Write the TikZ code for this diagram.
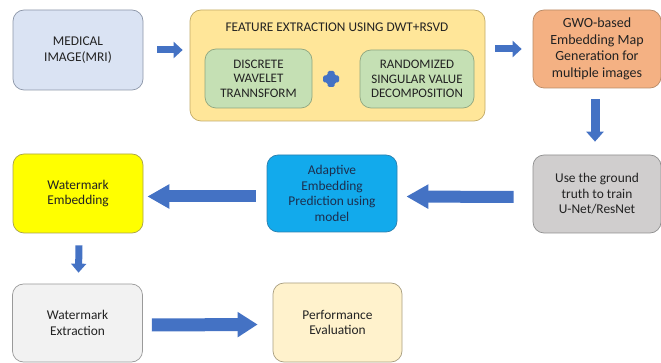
\documentclass[tikz,border=0pt]{standalone}
\usepackage{fontspec}
\setmainfont{Carlito}
\usetikzlibrary{arrows.meta}

\definecolor{arrowblue}{HTML}{4472C4}
\definecolor{txt}{HTML}{222222}
\definecolor{navytxt}{HTML}{1C2F4F}
\definecolor{medfill}{HTML}{DAE3F3}\definecolor{medline}{HTML}{8C96A8}
\definecolor{featfill}{HTML}{FFE699}\definecolor{featline}{HTML}{C2AA66}
\definecolor{grnfill}{HTML}{C5E0B4}\definecolor{grnline}{HTML}{8FA67F}
\definecolor{gwofill}{HTML}{F4B183}\definecolor{gwoline}{HTML}{B88A66}
\definecolor{grayfill}{HTML}{D0CECE}\definecolor{grayline}{HTML}{8F8F8F}
\definecolor{cyanfill}{HTML}{12AAEC}\definecolor{cyanline}{HTML}{2A7FAE}
\definecolor{yelfill}{HTML}{FFFF00}\definecolor{yelline}{HTML}{A8A24A}
\definecolor{extfill}{HTML}{F2F2F2}\definecolor{extline}{HTML}{9A9A9A}
\definecolor{perffill}{HTML}{FFF2CC}\definecolor{perfline}{HTML}{A89E80}

\tikzset{
  box/.style={rounded corners=11pt, line width=0.7pt, align=center,
    text=txt, inner sep=2pt,
    font=\fontsize{13.4}{15.5}\selectfont},
  blockarrow/.style={draw=arrowblue, line cap=butt},
  smallarrow/.style={blockarrow, line width=7pt,
    -{Triangle[length=9pt,width=16pt]}},
  bigarrow/.style={blockarrow, line width=12pt,
    -{Triangle[length=22pt,width=23pt]}},
}

\begin{document}
\begin{tikzpicture}[x=1pt,y=-1pt]
\useasboundingbox (0,0) rectangle (661,363);

% first row
\node[box, fill=medfill, draw=medline, minimum width=130pt, minimum height=80pt]
  (med) at (78,50) {MEDICAL\\IMAGE(MRI)};
\node[box, fill=featfill, draw=featline, minimum width=295pt, minimum height=111pt]
  (feat) at (337.5,65.5) {};
\node[text=txt, font=\fontsize{13.3}{15}\selectfont] (feattitle) at (337,27)
  {FEATURE EXTRACTION USING DWT+RSVD};
\node[box, fill=grnfill, draw=grnline, minimum width=107pt, minimum height=59pt,
  font=\fontsize{13}{14.5}\selectfont]
  (dwt) at (258.5,78.5) {DISCRETE\\WAVELET\\TRANNSFORM};
\node[box, fill=grnfill, draw=grnline, minimum width=114pt, minimum height=58pt,
  font=\fontsize{13}{14.5}\selectfont]
  (rsvd) at (417,79) {RANDOMIZED\\SINGULAR VALUE\\DECOMPOSITION};
\node[box, fill=gwofill, draw=gwoline, minimum width=128pt, minimum height=78pt,
  font=\fontsize{14}{16.5}\selectfont]
  (gwo) at (597,49) {GWO-based\\Embedding Map\\Generation for\\multiple images};

% plus sign between the two transforms
\node[inner sep=0pt, minimum size=0pt] (plus) at (331,79) {};
\fill[arrowblue, rounded corners=1.5pt]
  ([shift={(-3.5,-8)}]plus.center) -- ([shift={(3.5,-8)}]plus.center)
  -- ([shift={(3.5,-3.5)}]plus.center) -- ([shift={(8,-3.5)}]plus.center)
  -- ([shift={(8,3.5)}]plus.center) -- ([shift={(3.5,3.5)}]plus.center)
  -- ([shift={(3.5,8)}]plus.center) -- ([shift={(-3.5,8)}]plus.center)
  -- ([shift={(-3.5,3.5)}]plus.center) -- ([shift={(-8,3.5)}]plus.center)
  -- ([shift={(-8,-3.5)}]plus.center) -- ([shift={(-3.5,-3.5)}]plus.center)
  -- cycle;

% second row
\node[box, fill=grayfill, draw=grayline, minimum width=128pt, minimum height=78pt]
  (train) at (597,194) {Use the ground\\truth to train\\U-Net/ResNet};
\node[box, fill=cyanfill, draw=cyanline, minimum width=130pt, minimum height=77pt,
  text=navytxt]
  (adapt) at (332,193.5) {Adaptive\\Embedding\\Prediction using\\model};
\node[box, fill=yelfill, draw=yelline, minimum width=130pt, minimum height=79pt]
  (embed) at (78,193.5) {Watermark\\Embedding};

% third row
\node[box, fill=extfill, draw=extline, minimum width=130pt, minimum height=78pt]
  (extract) at (77.5,323) {Watermark\\Extraction};
\node[box, fill=perffill, draw=perfline, minimum width=129pt, minimum height=79pt]
  (perf) at (337.5,322.5) {Performance\\Evaluation};

% connectors
\draw[smallarrow] ([xshift=14pt]med.east) -- ([xshift=-7pt]feat.west |- med.east);
\draw[smallarrow] ([xshift=10pt]feat.east |- gwo.west) -- ([xshift=-11pt]gwo.west);
\draw[blockarrow, line width=9pt, -{Triangle[length=10pt,width=17pt]}]
  ([shift={(-2pt,-11pt)}]gwo.south) -- ([shift={(-2pt,13pt)}]train.north);
\draw[bigarrow] ([shift={(-19pt,-3pt)}]train.west) -- ([shift={(9pt,-3pt)}]adapt.east);
\draw[bigarrow] ([shift={(-11pt,-3pt)}]adapt.west) -- ([shift={(4pt,-3pt)}]embed.east);
\draw[blockarrow, line width=7pt, -{Triangle[length=9pt,width=15pt]}]
  ([shift={(1pt,-12pt)}]embed.south) -- ([shift={(1pt,11pt)}]extract.north);
\draw[blockarrow, line width=13pt, -{Triangle[length=20pt,width=24pt]}]
  ([shift={(9pt,-2pt)}]extract.east) -- ([shift={(-15pt,-2pt)}]perf.west);
\end{tikzpicture}
\end{document}
